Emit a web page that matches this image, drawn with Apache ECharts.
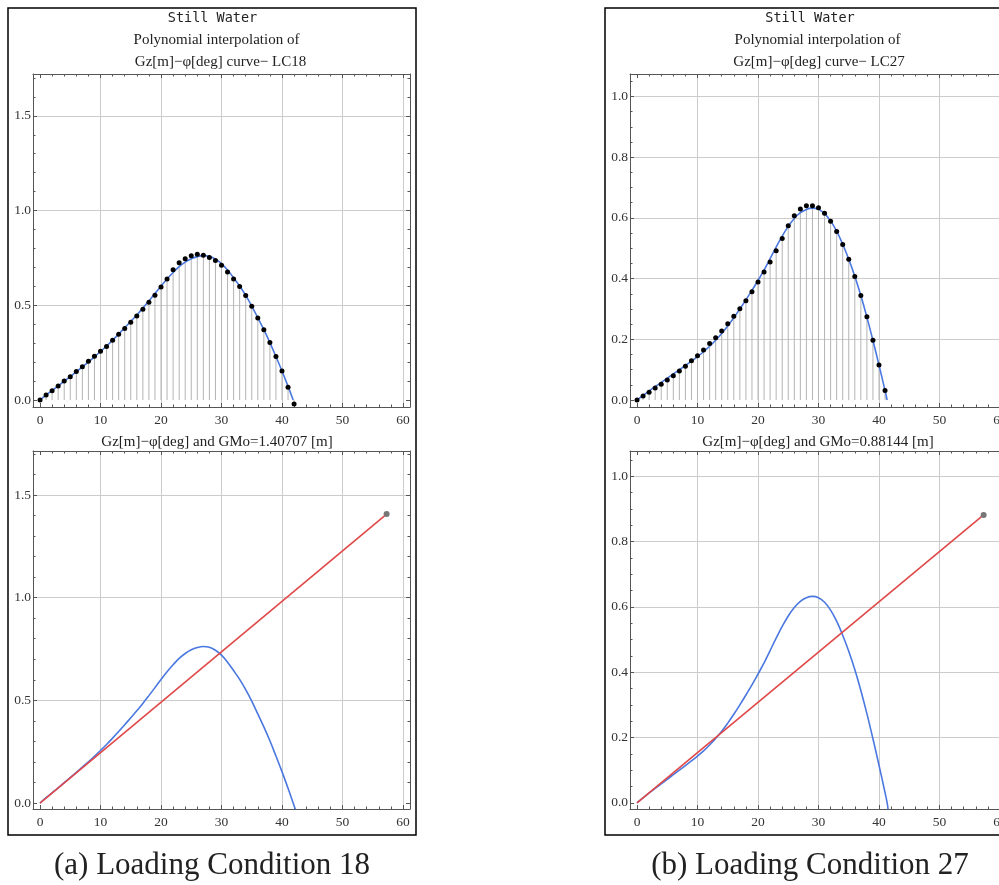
<!DOCTYPE html>
<html>
<head>
<meta charset="utf-8">
<script src="https://cdn.jsdelivr.net/npm/echarts@6/dist/echarts.min.js"></script>
<style>
body { margin: 0px; background: #fff; }
#main { width: 999px; height: 885px; }
</style>
</head>
<body>
<div id="main"></div>
<script>
// LC18 sample points (deg, Gz m)
var degL = [0,1,2,3,4,5,6,7,8,9,10,11,12,13,14,15,16,17,18,19,20,21,22,23,24,25,26,27,28,29,30,31,32,33,34,35,36,37,38,39,40,41,42];
var gzL = [0,0.026,0.049,0.074,0.100,0.123,0.150,0.176,0.204,0.231,0.257,0.283,0.315,0.347,0.377,0.410,0.444,0.479,0.516,0.553,0.597,0.639,0.687,0.724,0.746,0.761,0.769,0.764,0.752,0.736,0.711,0.676,0.639,0.599,0.551,0.495,0.433,0.371,0.303,0.229,0.153,0.067,-0.021];
// LC18 polynomial fit
var fitDegL = [0,1,2,3,4,5,6,7,8,9,10,11,12,13,14,15,16,17,18,19,20,21,22,23,24,25,26,27,28,29,30,31,32,33,34,35,36,37,38,39,40,41,41.85];
var fitL = [0,0.026,0.050,0.074,0.099,0.124,0.149,0.175,0.201,0.228,0.256,0.285,0.316,0.348,0.381,0.415,0.449,0.485,0.523,0.562,0.601,0.639,0.673,0.704,0.728,0.746,0.757,0.762,0.758,0.744,0.720,0.686,0.645,0.602,0.552,0.496,0.434,0.371,0.303,0.229,0.153,0.072,0];
var tailL = [42.2, -0.03];
var gmL = 1.40707;

// LC27 sample points
var degR = [0,1,2,3,4,5,6,7,8,9,10,11,12,13,14,15,16,17,18,19,20,21,22,23,24,25,26,27,28,29,30,31,32,33,34,35,36,37,38,39,40,41];
var gzR = [0,0.013,0.026,0.040,0.052,0.066,0.080,0.096,0.111,0.129,0.146,0.165,0.186,0.205,0.227,0.251,0.276,0.301,0.327,0.357,0.389,0.422,0.455,0.492,0.532,0.574,0.607,0.629,0.640,0.640,0.633,0.615,0.589,0.555,0.512,0.464,0.407,0.344,0.274,0.197,0.115,0.031];
var fitDegR = [0,1,2,3,4,5,6,7,8,9,10,11,12,13,14,15,16,17,18,19,20,21,22,23,24,25,26,27,28,29,30,31,32,33,34,35,36,37,38,39,40,41,41.35];
var fitR = [0,0.015,0.030,0.044,0.058,0.072,0.086,0.100,0.114,0.128,0.143,0.159,0.177,0.197,0.219,0.244,0.271,0.300,0.330,0.361,0.394,0.428,0.466,0.504,0.540,0.572,0.598,0.617,0.628,0.632,0.628,0.614,0.590,0.556,0.513,0.464,0.408,0.344,0.273,0.196,0.115,0.031,0];
var tailR = [41.5, -0.02];
var gmR = 0.88144;
var oneRad = 57.2958;

// ticks
var xMajor = [0,10,20,30,40,50,60];
var xMinor = [2,4,6,8,12,14,16,18,22,24,26,28,32,34,36,38,42,44,46,48,52,54,56,58];
var yMajorL = [0,0.5,1.0,1.5];
var yMinorL = [0.1,0.2,0.3,0.4,0.6,0.7,0.8,0.9,1.1,1.2,1.3,1.4,1.6,1.7];
var yMajorR = [0,0.2,0.4,0.6,0.8,1.0];
var yMinorR = [0.05,0.1,0.15,0.25,0.3,0.35,0.45,0.5,0.55,0.65,0.7,0.75,0.85,0.9,0.95,1.05];

var frameColor = '#555';
var gridColors = ['rgba(0,0,0,0)','#cccccc','#cccccc','#cccccc','#cccccc','#cccccc','#cccccc'];
var serif = '"Liberation Serif", serif';

function zip(xs, ys) {
	var out = [];
	for (var i = 0; i < xs.length; i++) out.push([xs[i], ys[i]]);
	return out;
}

function makeAxis(gi, pos, range, ticks, len, label, line, split) {
	var isX = (pos === 'bottom' || pos === 'top');
	return {
		type: 'value',
		gridIndex: gi,
		position: pos,
		min: range[0],
		max: range[1],
		axisLine: { show: line, onZero: false, lineStyle: { color: frameColor, width: 1 } },
		axisTick: { show: true, inside: true, length: len, customValues: ticks, lineStyle: { color: frameColor, width: 1 } },
		axisLabel: label ? {
			show: true,
			customValues: ticks,
			margin: isX ? 6 : 2,
			color: '#333',
			fontFamily: serif,
			fontSize: 13.5,
			formatter: function (v) { return isX ? String(Math.round(v)) : v.toFixed(1); }
		} : { show: false },
		splitLine: split ? { show: true, lineStyle: { color: gridColors, width: 1 } } : { show: false },
		minorTick: { show: false },
		minorSplitLine: { show: false }
	};
}

var xAxes = [], yAxes = [];
function frame(gi, xr, yr, yMajor, yMinor) {
	xAxes.push(makeAxis(gi, 'bottom', xr, xMajor, 4, true, true, true));
	xAxes.push(makeAxis(gi, 'bottom', xr, xMinor, 2.5, false, false, false));
	xAxes.push(makeAxis(gi, 'top', xr, xMajor, 4, false, true, false));
	xAxes.push(makeAxis(gi, 'top', xr, xMinor, 2.5, false, false, false));
	yAxes.push(makeAxis(gi, 'left', yr, yMajor, 4, true, true, true));
	yAxes.push(makeAxis(gi, 'left', yr, yMinor, 2.5, false, false, false));
	yAxes.push(makeAxis(gi, 'right', yr, yMajor, 4, false, true, false));
	yAxes.push(makeAxis(gi, 'right', yr, yMinor, 2.5, false, false, false));
}

var xr = [-1.16, 61.16];
frame(0, xr, [-0.037, 1.721], yMajorL, yMinorL);
frame(1, xr, [-0.029, 1.714], yMajorL, yMinorL);
frame(2, xr, [-0.023, 1.074], yMajorR, yMinorR);
frame(3, xr, [-0.019, 1.077], yMajorR, yMinorR);

var grids = [
	{ left: 33, top: 74, width: 377, height: 333 },
	{ left: 33, top: 451, width: 377, height: 358 },
	{ left: 630, top: 74, width: 377, height: 333 },
	{ left: 630, top: 451, width: 377, height: 358 }
];
grids.forEach(function (g) { g.show = false; g.containLabel = false; g.outerBoundsMode = 'none'; });

function topSeries(gi, deg, gz, fitDeg, fit) {
	return [
		{ type: 'bar', xAxisIndex: gi * 4, yAxisIndex: gi * 4, barWidth: 1, data: zip(deg, gz),
			itemStyle: { color: '#b4b4b4' }, z: 1 },
		{ type: 'line', xAxisIndex: gi * 4, yAxisIndex: gi * 4, smooth: 0.4, showSymbol: false,
			data: zip(fitDeg, fit), lineStyle: { color: '#4a78e0', width: 1.6 }, z: 2 },
		{ type: 'scatter', xAxisIndex: gi * 4, yAxisIndex: gi * 4, symbolSize: 5, data: zip(deg, gz),
			itemStyle: { color: '#000', opacity: 1 }, z: 3 }
	];
}

function bottomSeries(gi, fitDeg, fit, tail, gm) {
	var curve = zip(fitDeg, fit);
	curve.push(tail);
	return [
		{ type: 'line', xAxisIndex: gi * 4, yAxisIndex: gi * 4, smooth: 0.4, showSymbol: false,
			data: curve, lineStyle: { color: '#4a78e0', width: 1.6 }, z: 2 },
		{ type: 'line', xAxisIndex: gi * 4, yAxisIndex: gi * 4, showSymbol: false, data: [[0, 0], [oneRad, gm]],
			lineStyle: { color: '#e04848', width: 1.6 }, z: 3 },
		{ type: 'scatter', xAxisIndex: gi * 4, yAxisIndex: gi * 4, symbolSize: 6, data: [[oneRad, gm]],
			itemStyle: { color: '#777', opacity: 1 }, z: 4 }
	];
}

function label(x, y, text, font) {
	return { type: 'text', x: x, y: y, silent: true,
		style: { text: text, font: font, fill: '#222', textAlign: 'center', textVerticalAlign: 'middle' } };
}

var mono = '13.5px "DejaVu Sans Mono", monospace';
var ttl = '15px "Liberation Serif", serif';
var cap = '31px "Liberation Serif", serif';

var graphics = [
	{ type: 'rect', shape: { x: 8, y: 8, width: 408, height: 827 }, silent: true,
		style: { fill: 'none', stroke: '#000', lineWidth: 1.5 } },
	{ type: 'rect', shape: { x: 605, y: 8, width: 410, height: 827 }, silent: true,
		style: { fill: 'none', stroke: '#000', lineWidth: 1.5 } },
	label(212.5, 18, 'Still Water', mono),
	label(216.5, 40, 'Polynomial interpolation of', ttl),
	label(220.5, 62, 'Gz[m]\u2212\u03c6[deg] curve\u2212 LC18', ttl),
	label(217, 442, 'Gz[m]\u2212\u03c6[deg] and GMo=1.40707 [m]', ttl),
	label(810, 18, 'Still Water', mono),
	label(817.5, 40, 'Polynomial interpolation of', ttl),
	label(819, 62, 'Gz[m]\u2212\u03c6[deg] curve\u2212 LC27', ttl),
	label(818, 442, 'Gz[m]\u2212\u03c6[deg] and GMo=0.88144 [m]', ttl),
	label(212, 866, '(a) Loading Condition 18', cap),
	label(810, 866, '(b) Loading Condition 27', cap)
];

var myChart = echarts.init(document.getElementById('main'));
var option = {
	animation: false,
	backgroundColor: '#fff',
	grid: grids,
	xAxis: xAxes,
	yAxis: yAxes,
	graphic: graphics,
	series: [].concat(
		topSeries(0, degL, gzL, fitDegL, fitL),
		bottomSeries(1, fitDegL, fitL, tailL, gmL),
		topSeries(2, degR, gzR, fitDegR, fitR),
		bottomSeries(3, fitDegR, fitR, tailR, gmR)
	)
};
myChart.setOption(option);
</script>
</body>
</html>
